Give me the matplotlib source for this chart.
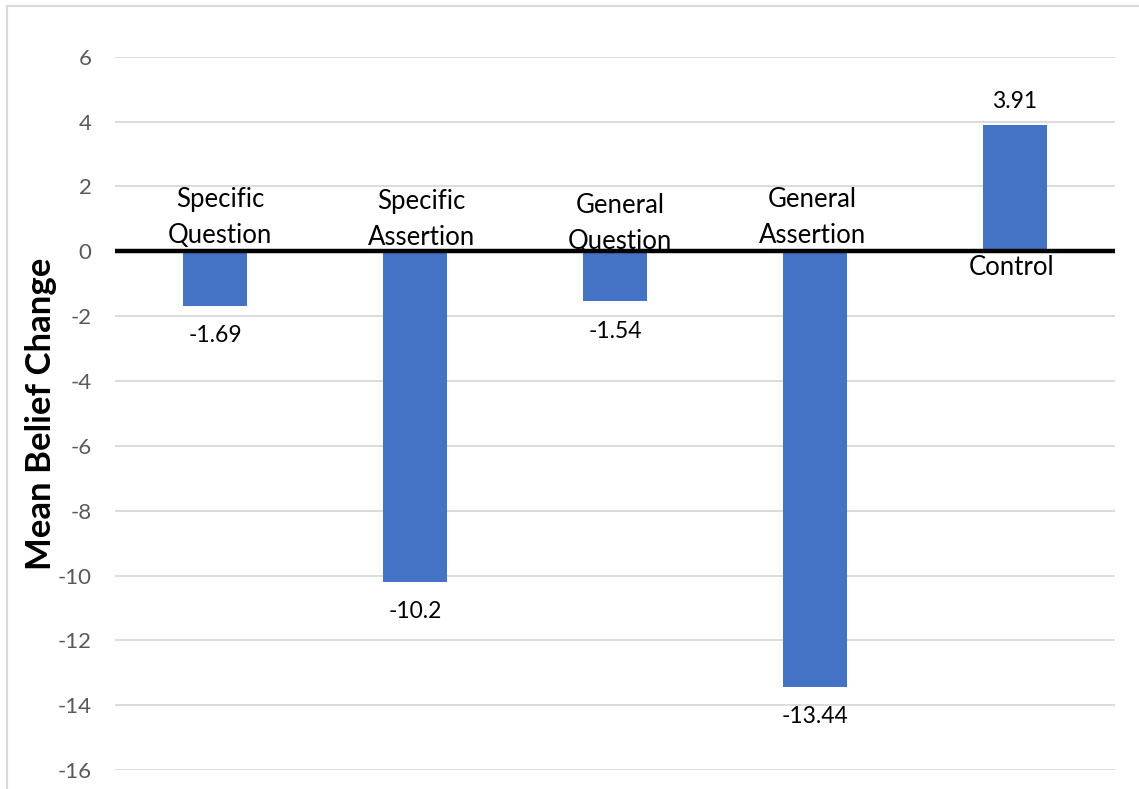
import matplotlib
matplotlib.use('Agg')
import matplotlib.pyplot as plt
from matplotlib.patches import Rectangle

# Data
categories = ['Specific\nQuestion', 'Specific\nAssertion', 'General\nQuestion',
              'General\nAssertion', 'Control']
values = [-1.69, -10.2, -1.54, -13.44, 3.91]
value_labels = ['-1.69', '-10.2', '-1.54', '-13.44', '3.91']
yticks = list(range(-16, 7, 2))

# hand-placed category labels (offsets from bar centre, data units)
lab_dx = [0.025, 0.03, 0.025, -0.015, -0.02]
lab_y = [1.03, 0.99, 0.85, 1.05, -0.51]

plt.rcParams['font.family'] = ['Lato', 'DejaVu Sans']

fig = plt.figure(figsize=(11.39, 7.89), dpi=100)
ax = fig.add_axes([0.101, 0.024, 0.878, 0.904])

x = list(range(len(categories)))
ax.bar(x, values, width=0.32, color='#4472C4', zorder=2)
ax.axhline(0, color='black', lw=3.2, zorder=3)

ax.set_xlim(-0.5, 4.5)
ax.set_ylim(-16, 6)
ax.set_yticks(yticks)
ax.set_yticklabels([str(t) for t in yticks], color='#595959', fontsize=16)
ax.tick_params(axis='y', length=0, pad=17)
ax.set_xticks([])
ax.grid(axis='y', color='#d9d9d9', lw=1.3, zorder=0)
for s in ax.spines.values():
    s.set_visible(False)

for i, cat in enumerate(categories):
    ax.text(i + lab_dx[i], lab_y[i], cat, ha='center', va='center', fontsize=18.5,
            linespacing=1.55, color='black', zorder=4)

# value labels at the bar ends
for i, (v, lab) in enumerate(zip(values, value_labels)):
    if v < 0:
        ax.text(i, v - 0.92, lab, ha='center', va='center', fontsize=16.5, color='black')
    else:
        ax.text(i, v + 0.72, lab, ha='center', va='center', fontsize=16.5, color='black')

ax.set_ylabel('Mean Belief Change', fontsize=25, fontweight='bold', labelpad=0)

# chart-area border
fig.patches.append(Rectangle((0.006, -0.02), 1.1, 1.012, transform=fig.transFigure,
                             fill=False, edgecolor='#d9d9d9', lw=1.5))

fig.savefig('out.png', dpi=100)
